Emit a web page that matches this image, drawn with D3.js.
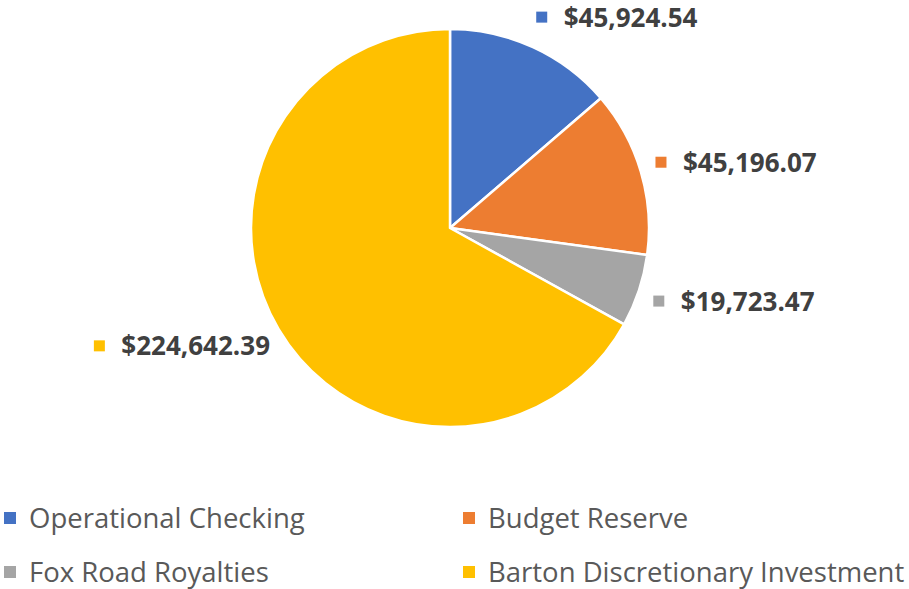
<!DOCTYPE html>
<html>
<head>
<meta charset="utf-8">
<script src="https://cdn.jsdelivr.net/npm/d3@7"></script>
<style>
  body { margin: 0; background: #fff; }
  text { font-family: "Open Sans", "Noto Sans", sans-serif; }
</style>
</head>
<body>
<script>
'use strict';

const categories = ['Operational Checking', 'Budget Reserve', 'Fox Road Royalties', 'Barton Discretionary Investment'];
const values = [45924.54, 45196.07, 19723.47, 224642.39];
const colors = ['#4472C4', '#ED7D31', '#A5A5A5', '#FFC000'];

const width = 909;
const height = 589;
const cx = 450;
const cy = 228;
const radius = 199;

const svg = d3.select('body')
  .append('svg')
  .attr('width', width)
  .attr('height', height);

const data = categories.map((c, i) => ({ name: c, value: values[i], color: colors[i] }));

const pie = d3.pie()
  .sort(null)
  .value(d => d.value);

const arc = d3.arc()
  .innerRadius(0)
  .outerRadius(radius);

const arcs = pie(data);
const g = svg.append('g').attr('transform', 'translate(' + cx + ',' + cy + ')');

g.selectAll('path')
  .data(arcs)
  .enter()
  .append('path')
    .attr('d', arc)
    .attr('fill', d => d.data.color)
    .attr('stroke', '#fff')
    .attr('stroke-width', 2.5)
    .attr('stroke-linejoin', 'round');

// data labels, outside end
const fmt = d3.format('$,.2f');
const labelRx = 220;
const labelRy = 232;

arcs.forEach(function(d) {
  let a = (d.startAngle + d.endAngle) / 2;
  let ax = labelRx * Math.sin(a);
  let ay = -labelRy * Math.cos(a);
  let lg = g.append('g');
  lg.append('rect')
    .attr('x', -5.5)
    .attr('y', -5.5)
    .attr('width', 11)
    .attr('height', 11)
    .attr('fill', d.data.color);
  lg.append('text')
    .attr('x', 22)
    .attr('y', 9.5)
    .style('font-size', '26px')
    .style('font-weight', 'bold')
    .attr('fill', '#404040')
    .text(fmt(d.data.value));
  let w = lg.node().getBBox().width;
  let x0 = Math.sin(a) >= 0 ? ax : ax - w + 15;
  lg.attr('transform', 'translate(' + x0 + ',' + ay + ')');
});

// legend
const legend = svg.append('g');
const legendCols = [10, 469];
const legendRows = [518, 572];

data.forEach(function(d, i) {
  let x = legendCols[i % 2];
  let y = legendRows[Math.floor(i / 2)];
  legend.append('rect')
    .attr('x', x - 6)
    .attr('y', y - 6)
    .attr('width', 12)
    .attr('height', 12)
    .attr('fill', d.color);
  legend.append('text')
    .attr('x', x + 19)
    .attr('y', y + 10)
    .style('font-size', '27.5px')
    .attr('fill', '#595959')
    .text(d.name);
});
</script>
</body>
</html>
